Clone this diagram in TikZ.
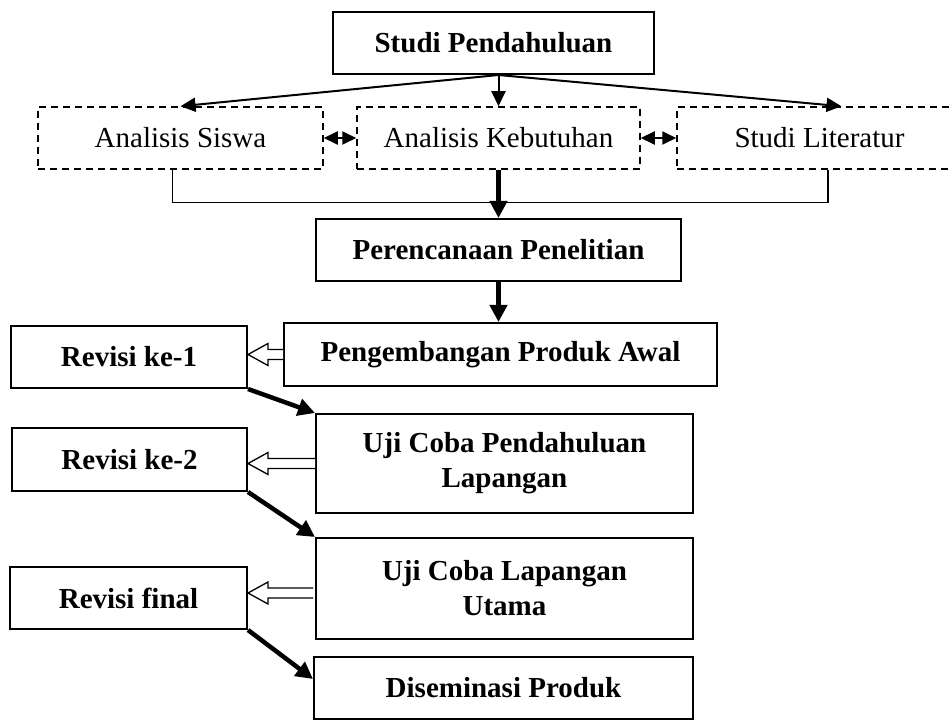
\documentclass[tikz,border=0pt]{standalone}
\usepackage{fontspec}
\setmainfont{Liberation Serif}
\usetikzlibrary{arrows.meta,calc}
\newcommand{\hollowarr}[2]{%
  \draw[line width=1.3pt,fill=white,line join=miter]
    ($(#1)+(0,-5)$) -- ($(#2)+(20,-5)$) -- ($(#2)+(20,-11)$) -- (#2)
    -- ($(#2)+(20,11)$) -- ($(#2)+(20,5)$) -- ($(#1)+(0,5)$);}
\begin{document}
\begin{tikzpicture}[x=1pt,y=-1pt,
  solidbox/.style={draw, line width=2pt, inner sep=0pt, align=center,
    font=\fontsize{29}{35}\selectfont\bfseries},
  dashbox/.style={draw, line width=1.5pt, dash pattern=on 7pt off 5pt,
    inner sep=0pt, minimum height=62pt, font=\fontsize{29}{35}\selectfont},
  thinarrow/.style={line width=2pt, -{Triangle[length=15pt,width=14pt]}},
  thickarrow/.style={line width=4.5pt, -{Triangle[length=17pt,width=17pt]}},
  biarrow/.style={line width=2pt,
    {Triangle[length=14pt,width=13pt]}-{Triangle[length=14pt,width=13pt]}},
  thinline/.style={line width=1.3pt}
]
\useasboundingbox (0,0) rectangle (951,722);
\clip (0,0) rectangle (951,722);

% top
\node[solidbox, minimum width=321pt, minimum height=62pt] (sp) at (493.5,43) {Studi Pendahuluan};

% dashed boxes
\node[dashbox, minimum width=285pt] (as) at (180.5,138) {Analisis Siswa};
\node[dashbox, minimum width=283pt] (ak) at (498.5,138) {Analisis Kebutuhan};
\node[dashbox, minimum width=285pt] (sl) at (819.5,138) {Studi Literatur};

% main column
\node[solidbox, minimum width=365pt, minimum height=62pt] (pp) at (498.5,250) {Perencanaan Penelitian};
\node[solidbox, minimum width=433pt, minimum height=63pt] (pa) at (500.5,354.5) {Pengembangan Produk Awal};
\node[solidbox, minimum width=377pt, minimum height=99pt] (uc1) at (504.5,463.5) {Uji Coba Pendahuluan\\Lapangan};
\node[solidbox, minimum width=377pt, minimum height=101pt] (uc2) at (504.5,588.5) {Uji Coba Lapangan\\Utama};
\node[solidbox, minimum width=379pt, minimum height=62pt] (ds) at (503.5,688) {Diseminasi Produk};

% revision column
\node[solidbox, minimum width=236pt, minimum height=62pt] (r1) at (129,357) {Revisi ke-1};
\node[solidbox, minimum width=235pt, minimum height=63pt] (r2) at (129.5,459.5) {Revisi ke-2};
\node[solidbox, minimum width=237pt, minimum height=62pt] (rf) at (128.5,598) {Revisi final};

% arrows from top
\coordinate (o) at (sp.south -| ak.north);
\draw[thinarrow] (o) -- (as.north);
\draw[thinarrow] (o) -- (ak.north);
\draw[thinarrow] (o) -- ($(sl.north)+(22,0)$);

% double arrows
\draw[biarrow] (as.east) -- (ak.west);
\draw[biarrow] (ak.east) -- (sl.west);

% collecting line
\draw[thinline] ($(as.south)+(-8,0)$) -- ++(0,33) -| ($(sl.south)+(8.5,0)$);

% thick vertical arrows
\draw[thickarrow] (ak.south) -- (pp.north);
\draw[thickarrow] (pp.south) -- (pp.south |- pa.north);

% hollow arrows
\hollowarr{pa.west}{r1.east |- pa.west}
\hollowarr{uc1.west}{r2.east |- uc1.west}
\coordinate (a3) at ($(uc2.west)+(-2,4.5)$);
\hollowarr{a3}{rf.east |- a3}

% diagonal arrows
\draw[thickarrow] (r1.south east) -- (uc1.north west);
\draw[thickarrow] (r2.south east) -- (uc2.north west);
\draw[thickarrow] (rf.south east) -- ($(ds.north west)+(0,23)$);
\end{tikzpicture}
\end{document}
